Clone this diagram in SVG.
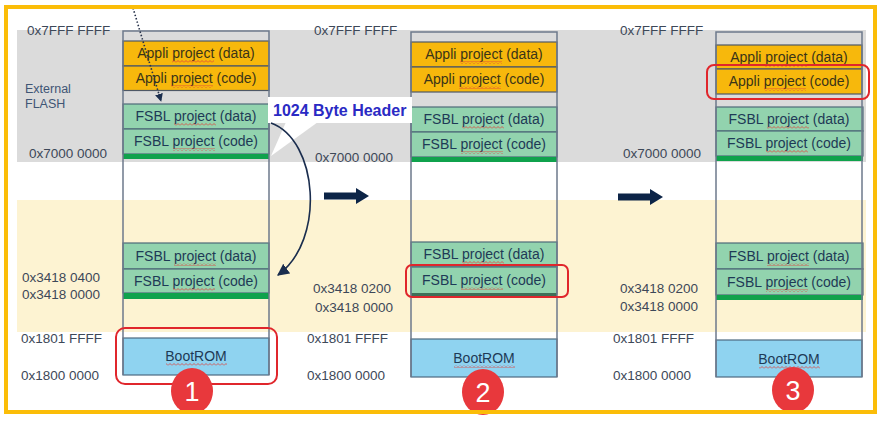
<svg xmlns="http://www.w3.org/2000/svg" width="884" height="421" viewBox="0 0 884 421">
<defs>
<style>
.lbl{font-family:"Liberation Sans",Arial,sans-serif;font-size:13.5px;fill:#3d4858}
.ext{font-family:"Liberation Sans",Arial,sans-serif;font-size:12.5px;fill:#3f5575}
.bx{font-family:"Liberation Sans",Arial,sans-serif;font-size:14px;text-anchor:middle}
.ap{fill:#f7b80c;stroke:#4e5866;stroke-width:1.2}
.apt{fill:#3a3418}
.fs{fill:#92d3ae;stroke:#4e6a78;stroke-width:1.2}
.fst{fill:#1e3a56}
.gr{fill:#0fa24c}
.br{fill:#8fd3f0;stroke:#4e6a80;stroke-width:1.2}
.col{fill:none;stroke:#6d7a8c;stroke-width:1.5}
.hl{fill:none;stroke:#e0262c;stroke-width:2}
.num{fill:#e8383c}
.numt{font-family:"Liberation Sans",Arial,sans-serif;font-size:27px;fill:#fff;text-anchor:middle}
.blk{fill:#0c2447}
.sq{fill:url(#sqp)}
</style>
<pattern id="sqp" patternUnits="userSpaceOnUse" width="4" height="3">
<path d="M0,2.5 L2,0.5 L4,2.5" fill="none" stroke="#e0403a" stroke-width="0.8"/>
</pattern>
<marker id="ah" viewBox="0 0 10 10" refX="9" refY="5" markerWidth="8" markerHeight="8" orient="auto" markerUnits="userSpaceOnUse">
<path d="M0,0 L10,5 L0,10 z" fill="#1a2d4e"/>
</marker>
<marker id="ah2" viewBox="0 0 10 10" refX="9" refY="5" markerWidth="12" markerHeight="12" orient="auto" markerUnits="userSpaceOnUse">
<path d="M0,0 L10,5 L0,10 z" fill="#1a2d4e"/>
</marker>
</defs>
<rect x="0" y="0" width="884" height="421" fill="#fff"/>
<g id="bands">
<rect x="17" y="30" width="849" height="132" fill="#dbdbdb"/>
<rect x="17" y="200" width="849" height="132" fill="#fdf3d2"/>
</g>

<g id="column1">
<rect class="ap" x="123" y="41" width="146" height="25"/>
<text class="bx apt" x="196" y="58">Appli project (data)</text>
<rect class="ap" x="123" y="66" width="146" height="24.5"/>
<text class="bx apt" x="196" y="83">Appli project (code)</text>
<rect class="fs" x="123" y="104" width="146" height="25"/>
<text class="bx fst" x="196" y="121">FSBL project (data)</text>
<rect class="fs" x="123" y="129" width="146" height="25"/>
<text class="bx fst" x="196" y="146">FSBL project (code)</text>
<rect class="gr" x="123" y="154" width="146" height="5"/>
<rect class="fs" x="123" y="243" width="146" height="26"/>
<text class="bx fst" x="196" y="261">FSBL project (data)</text>
<rect class="fs" x="123" y="269" width="146" height="24"/>
<text class="bx fst" x="196" y="286">FSBL project (code)</text>
<rect class="gr" x="123" y="293" width="146" height="6"/>
<rect class="br" x="123" y="338" width="146" height="37"/>
<text class="bx fst" x="196" y="361">BootROM</text>
<path class="col" d="M123,375 V31 H269 V375"/>
<rect class="hl" x="116" y="328" width="161" height="56" rx="9"/>
<text class="lbl" x="27" y="35">0x7FFF FFFF</text>
<text class="ext" x="25" y="93">External</text>
<text class="ext" x="25" y="108">FLASH</text>
<text class="lbl" x="29" y="158">0x7000 0000</text>
<text class="lbl" x="22" y="282">0x3418 0400</text>
<text class="lbl" x="22" y="299">0x3418 0000</text>
<text class="lbl" x="21" y="343">0x1801 FFFF</text>
<text class="lbl" x="21" y="380">0x1800 0000</text>
</g>

<g id="column2">
<rect class="ap" x="411" y="42" width="146" height="25"/>
<text class="bx apt" x="484" y="59">Appli project (data)</text>
<rect class="ap" x="411" y="67" width="146" height="25"/>
<text class="bx apt" x="484" y="84">Appli project (code)</text>
<rect class="fs" x="411" y="107" width="146" height="25"/>
<text class="bx fst" x="484" y="124">FSBL project (data)</text>
<rect class="fs" x="411" y="132" width="146" height="25"/>
<text class="bx fst" x="484" y="149">FSBL project (code)</text>
<rect class="gr" x="411" y="157" width="146" height="5"/>
<rect class="fs" x="411" y="242" width="146" height="25"/>
<text class="bx fst" x="484" y="259">FSBL project (data)</text>
<rect class="fs" x="411" y="267" width="146" height="27"/>
<text class="bx fst" x="484" y="285">FSBL project (code)</text>
<rect x="411" y="293" width="146" height="3" fill="#3f6f58"/>
<rect class="br" x="411" y="339" width="146" height="38"/>
<text class="bx fst" x="484" y="363">BootROM</text>
<path class="col" d="M411,377 V32 H557 V377"/>
<rect class="hl" x="406" y="265" width="162" height="32" rx="6"/>
<text class="lbl" x="314" y="35">0x7FFF FFFF</text>
<text class="lbl" x="315" y="162">0x7000 0000</text>
<text class="lbl" x="313" y="293">0x3418 0200</text>
<text class="lbl" x="315" y="312">0x3418 0000</text>
<text class="lbl" x="307" y="343">0x1801 FFFF</text>
<text class="lbl" x="307" y="380">0x1800 0000</text>
</g>

<g id="column3">
<rect class="ap" x="716" y="45" width="146" height="24"/>
<text class="bx apt" x="789" y="62">Appli project (data)</text>
<rect class="ap" x="716" y="69" width="146" height="25"/>
<text class="bx apt" x="789" y="86">Appli project (code)</text>
<rect class="fs" x="716" y="107" width="147" height="24"/>
<text class="bx fst" x="789" y="124">FSBL project (data)</text>
<rect class="fs" x="716" y="131" width="147" height="25"/>
<text class="bx fst" x="789" y="148">FSBL project (code)</text>
<rect class="gr" x="716" y="156" width="147" height="5"/>
<rect class="fs" x="716" y="243" width="147" height="26"/>
<text class="bx fst" x="789" y="261">FSBL project (data)</text>
<rect class="fs" x="716" y="269" width="147" height="26"/>
<text class="bx fst" x="789" y="287">FSBL project (code)</text>
<rect class="gr" x="716" y="295" width="147" height="5"/>
<rect class="br" x="716" y="340" width="146" height="37"/>
<text class="bx fst" x="789" y="364">BootROM</text>
<path class="col" d="M716,377 V32 H862 V377"/>
<rect class="hl" x="707" y="65" width="162" height="34" rx="7"/>
<text class="lbl" x="620" y="35">0x7FFF FFFF</text>
<text class="lbl" x="623" y="158">0x7000 0000</text>
<text class="lbl" x="620" y="293">0x3418 0200</text>
<text class="lbl" x="620" y="311">0x3418 0000</text>
<text class="lbl" x="613" y="343">0x1801 FFFF</text>
<text class="lbl" x="613" y="380">0x1800 0000</text>
</g>

<g id="spellmarks">
<rect class="sq" x="172" y="60" width="42" height="3"/>
<rect class="sq" x="171" y="85" width="42" height="3"/>
<rect class="sq" x="174" y="123" width="42" height="3"/>
<rect class="sq" x="173" y="148" width="42" height="3"/>
<rect class="sq" x="174" y="263" width="42" height="3"/>
<rect class="sq" x="173" y="288" width="42" height="3"/>
<rect class="sq" x="166" y="363" width="61" height="3"/>
<rect class="sq" x="460" y="61" width="42" height="3"/>
<rect class="sq" x="459" y="86" width="42" height="3"/>
<rect class="sq" x="462" y="126" width="42" height="3"/>
<rect class="sq" x="461" y="151" width="42" height="3"/>
<rect class="sq" x="462" y="261" width="42" height="3"/>
<rect class="sq" x="461" y="287" width="42" height="3"/>
<rect class="sq" x="454" y="365" width="61" height="3"/>
<rect class="sq" x="765" y="64" width="42" height="3"/>
<rect class="sq" x="764" y="88" width="42" height="3"/>
<rect class="sq" x="767" y="126" width="42" height="3"/>
<rect class="sq" x="766" y="150" width="42" height="3"/>
<rect class="sq" x="767" y="263" width="42" height="3"/>
<rect class="sq" x="766" y="289" width="42" height="3"/>
<rect class="sq" x="759" y="366" width="61" height="3"/>
</g>

<g id="callout">
<polygon points="286,122 318,122 271,156" fill="#fff"/>
<rect x="268" y="97" width="144" height="26" fill="#fff"/>
<text x="273" y="116" font-family="Liberation Sans, Arial, sans-serif" font-size="16" font-weight="bold" fill="#2a2ac4">1024 Byte Header</text>
</g>

<g id="connectors">
<path d="M133,8 L161,101" fill="none" stroke="#27324a" stroke-width="1.6" stroke-dasharray="1.5,2" marker-end="url(#ah)"/>
<path d="M271,123 C318,140 326,240 278,275" fill="none" stroke="#1a2d4e" stroke-width="1.6" marker-end="url(#ah2)"/>
<polygon class="blk" points="324,192.5 356,192.5 356,188 369,196 356,204 356,199.5 324,199.5"/>
<polygon class="blk" points="618,193.5 650,193.5 650,189 663,197 650,205 650,200.5 618,200.5"/>
</g>

<g id="badges">
<ellipse class="num" cx="192" cy="391" rx="21" ry="23"/>
<text class="numt" x="192" y="401">1</text>
<ellipse class="num" cx="483" cy="392" rx="21" ry="23"/>
<text class="numt" x="483" y="402">2</text>
<ellipse class="num" cx="793" cy="390" rx="21" ry="23"/>
<text class="numt" x="793" y="400">3</text>
</g>

<rect x="6" y="7" width="869" height="405" fill="none" stroke="#fbbd08" stroke-width="4"/>
</svg>
